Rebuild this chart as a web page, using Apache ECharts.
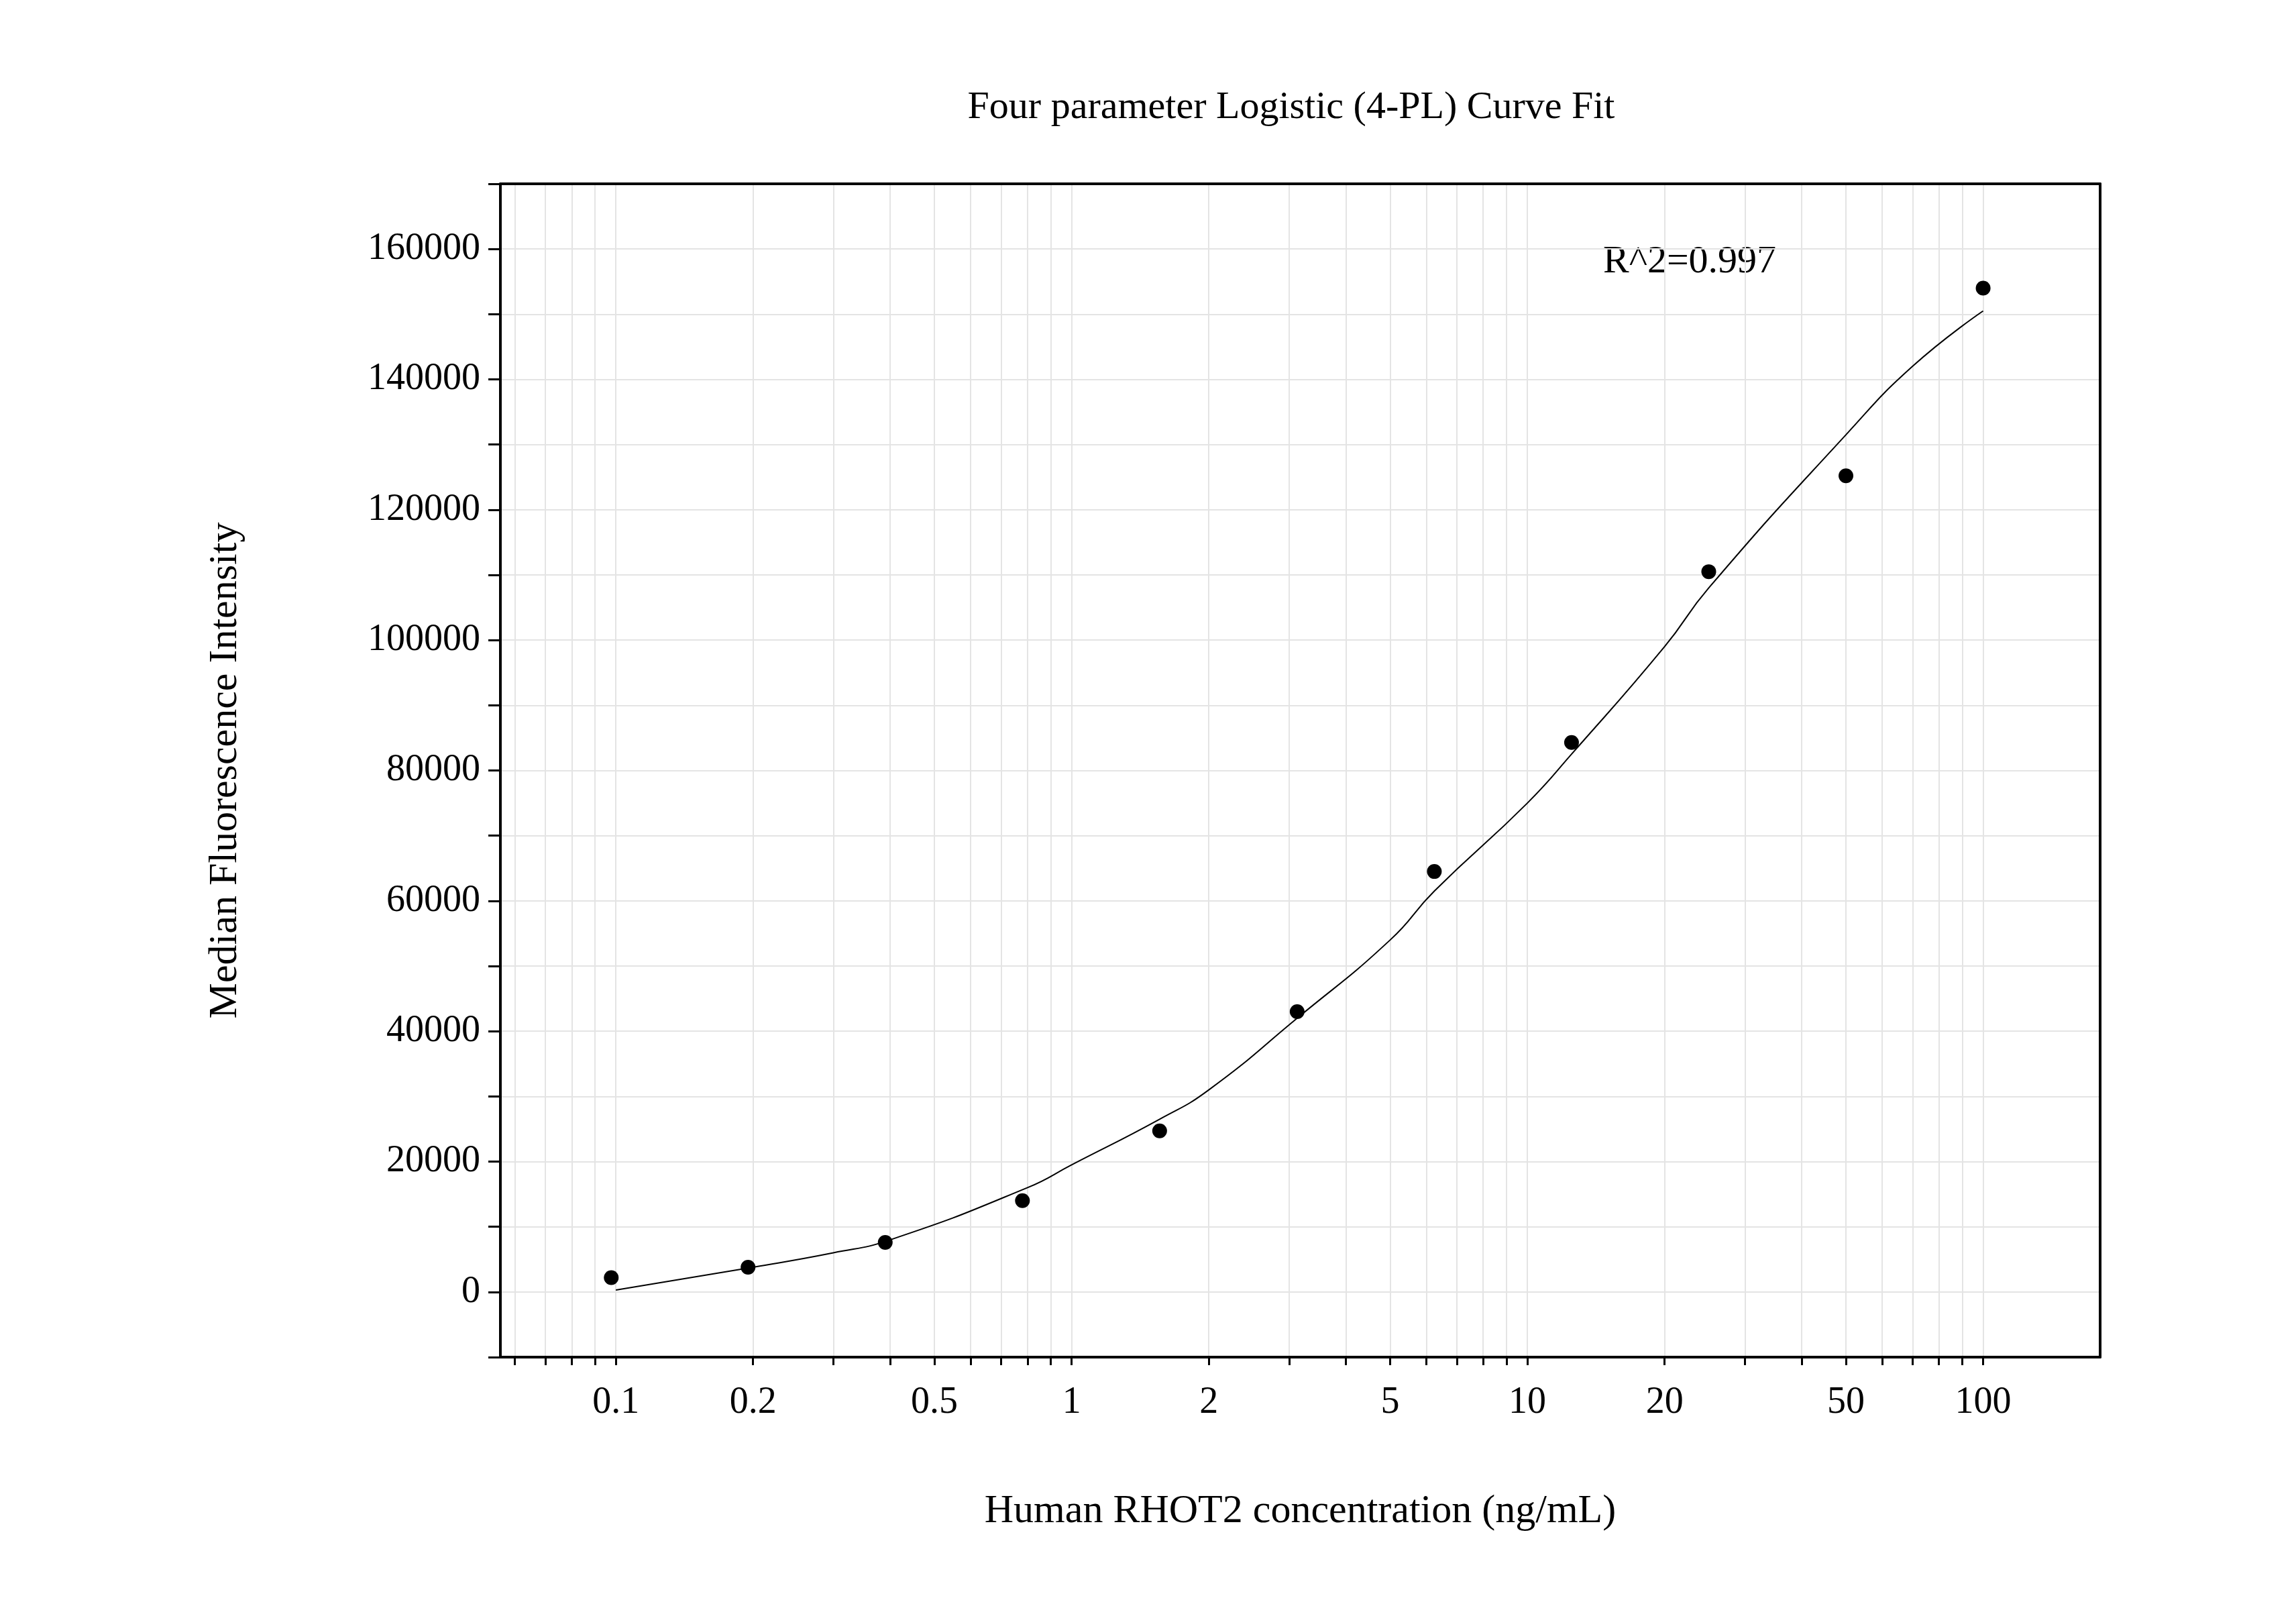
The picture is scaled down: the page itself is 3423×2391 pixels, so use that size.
<!DOCTYPE html>
<html>
<head>
<meta charset="utf-8">
<script src="https://cdn.jsdelivr.net/npm/echarts@6/dist/echarts.min.js"></script>
<style>html,body{margin:0;background:#fff}#c{width:3423px;height:2391px}</style>
</head>
<body>
<div id="c"></div>
<script>
var chartDom = document.getElementById('c');
var myChart = echarts.init(chartDom);

// measured points (concentration ng/mL, MFI)
const conc = [0.0977, 0.195, 0.39, 0.78, 1.56, 3.125, 6.25, 12.5, 25, 50, 100];
const mfi = [2200, 3800, 7600, 14000, 24700, 43000, 64500, 84300, 110500, 125200, 154000];
// fitted curve
const fitX = [0.1, 0.2, 0.3, 0.4, 0.8, 1, 1.56, 2, 3.125, 5, 6.25, 10, 12.5, 20, 25, 50, 70, 100];
const fitY = [300, 3800, 6000, 8000, 16000, 19500, 26500, 31000, 42000, 54000, 61500, 75000, 82500, 99000, 108000, 131500, 142000, 150500];
const xLabels = [0.1, 0.2, 0.5, 1, 2, 5, 10, 20, 50, 100];

const lg = Math.log10;
var minor = [];
[0.01, 0.1, 1, 10, 100].forEach(function (d) {
  for (var k = 1; k < 10; k++) {
    var v = d * k;
    if (v > 0.0558 && v < 180) minor.push(lg(v));
  }
});
const fmt = function (v) {
  var r = Math.pow(10, v);
  return String(parseFloat(r.toPrecision(2)));
};
const font = 'Liberation Serif';

var option = {
  backgroundColor: '#fff',
  grid: { left: 746, right: 292, top: 274, bottom: 368 },
  xAxis: [{
    type: 'value', min: lg(0.0558), max: lg(180.6),
    name: 'Human RHOT2 concentration (ng/mL)', nameLocation: 'middle', nameGap: 200,
    nameTextStyle: { fontFamily: font, fontSize: 60, color: '#000' },
    axisLine: { onZero: false, lineStyle: { color: '#000', width: 4 } },
    axisTick: { customValues: minor, length: 12, lineStyle: { color: '#000', width: 3 } },
    axisLabel: { customValues: xLabels.map(lg), formatter: fmt, margin: 40,
      fontFamily: font, fontSize: 56, color: '#000' },
    splitLine: { show: true, lineStyle: { color: '#e4e4e4', width: 2 } }
  }, {
    type: 'value', position: 'top', min: lg(0.0558), max: lg(180.6),
    axisLine: { show: true, onZero: false, lineStyle: { color: '#000', width: 4 } },
    axisTick: { show: false }, axisLabel: { show: false }, splitLine: { show: false }
  }],
  yAxis: [{
    type: 'value', min: -10000, max: 170000, interval: 10000,
    name: 'Median Fluorescence Intensity', nameLocation: 'middle', nameGap: 380,
    nameTextStyle: { fontFamily: font, fontSize: 60, color: '#000' },
    axisLine: { show: true, onZero: false, lineStyle: { color: '#000', width: 4 } },
    axisTick: { show: true, length: 18, lineStyle: { color: '#000', width: 3 } },
    axisLabel: { margin: 30, fontFamily: font, fontSize: 56, color: '#000',
      formatter: function (v) { return (v >= 0 && v % 20000 === 0) ? String(v) : ''; } },
    splitLine: { show: true, lineStyle: { color: '#e4e4e4', width: 2 } }
  }, {
    type: 'value', position: 'right', min: -10000, max: 170000,
    axisLine: { show: true, onZero: false, lineStyle: { color: '#000', width: 4 } },
    axisTick: { show: false }, axisLabel: { show: false }, splitLine: { show: false }
  }],
  series: [{
    type: 'line', smooth: true, symbol: 'none',
    data: fitX.map(function (x, i) { return [lg(x), fitY[i]]; }),
    lineStyle: { color: '#000', width: 2 }, z: 2
  }, {
    type: 'scatter', symbolSize: 22,
    data: conc.map(function (x, i) { return [lg(x), mfi[i]]; }),
    itemStyle: { color: '#000', opacity: 1 }, z: 3
  }],
  graphic: [{
    type: 'text', x: 1925, y: 161,
    style: { text: 'Four parameter Logistic (4-PL) Curve Fit', fontFamily: font, fontSize: 58,
      fill: '#000', align: 'center', verticalAlign: 'middle' }
  }, {
    type: 'text', left: 2390, top: 362,
    style: { text: 'R^2=0.997', fontFamily: font, fontSize: 58, fill: '#000' }
  }]
};
myChart.setOption(option);
</script>
</body>
</html>
